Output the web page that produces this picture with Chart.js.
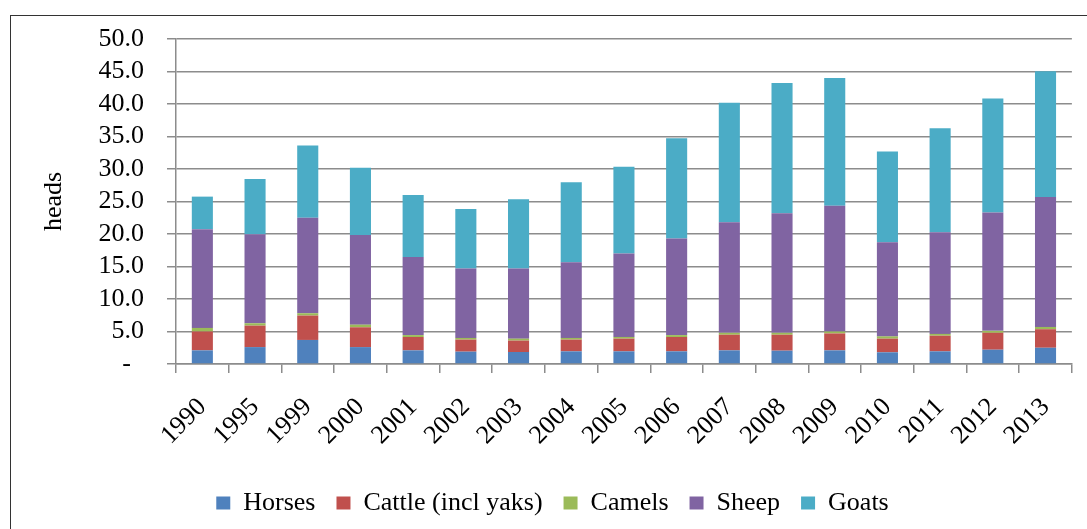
<!DOCTYPE html>
<html>
<head>
<meta charset="utf-8">
<script src="https://cdn.jsdelivr.net/npm/chart.js@4/dist/chart.umd.min.js"></script>
<style>
  html, body { margin: 0; padding: 0; background: #fff; overflow: hidden; }
  #frame { position: absolute; left: 10px; top: 15px; width: 2000px; height: 2000px;
           border-top: 1px solid #333; border-left: 1px solid #333; }
  #wrap { position: absolute; left: 0; top: 0; width: 1087px; height: 529px; }
</style>
</head>
<body>
<div id="frame"></div>
<div id="wrap"><canvas id="livestockChart"></canvas></div>
<script>
const years = ['1990', '1995', '1999', '2000', '2001', '2002', '2003', '2004', '2005',
  '2006', '2007', '2008', '2009', '2010', '2011', '2012', '2013'];

const horses = [2.1, 2.6, 3.7, 2.6, 2.1, 1.9, 1.85, 1.95, 1.95, 1.95, 2.1, 2.05, 2.1, 1.8, 1.95, 2.2, 2.5];
const cattle = [2.9, 3.3, 3.75, 3.05, 2.05, 1.85, 1.75, 1.8, 1.95, 2.2, 2.4, 2.45, 2.6, 2.1, 2.4, 2.6, 2.85];
const camels = [0.55, 0.37, 0.36, 0.4, 0.3, 0.26, 0.3, 0.26, 0.26, 0.3, 0.3, 0.3, 0.3, 0.35, 0.28, 0.3, 0.35];
const sheep = [15.2, 13.7, 14.7, 13.8, 12.0, 10.7, 10.8, 11.65, 12.85, 14.85, 17.0, 18.4, 19.35, 14.5, 15.65, 18.2, 20.0];
const goats = [5.0, 8.5, 11.1, 10.35, 9.55, 9.15, 10.65, 12.3, 13.35, 15.45, 18.4, 20.05, 19.65, 13.95, 16.0, 17.55, 19.35];

const yTicks = [0, 5, 10, 15, 20, 25, 30, 35, 40, 45, 50];

const font = { family: '"Liberation Serif", "Times New Roman", serif', size: 26 };
const gridColor = '#8c8c8c';

const series = [
  { label: 'Horses', data: horses, color: '#4F81BD' },
  { label: 'Cattle (incl yaks)', data: cattle, color: '#C0504D' },
  { label: 'Camels', data: camels, color: '#9BBB59' },
  { label: 'Sheep', data: sheep, color: '#8064A2' },
  { label: 'Goats', data: goats, color: '#4BACC6' },
];

new Chart(document.getElementById('livestockChart'), {
  type: 'bar',
  data: {
    labels: years,
    datasets: series.map((s) => ({
      label: s.label,
      data: s.data,
      backgroundColor: s.color,
      borderWidth: 0,
      barPercentage: 0.4,
      categoryPercentage: 1,
    })),
  },
  options: {
    responsive: true,
    maintainAspectRatio: false,
    animation: false,
    layout: { padding: { left: 32, right: 14, top: 39, bottom: 3 } },
    plugins: {
      tooltip: { enabled: false },
      legend: {
        position: 'bottom',
        labels: { font, color: '#000', boxWidth: 14, boxHeight: 13, padding: 21 },
      },
    },
    scales: {
      x: {
        stacked: true,
        afterFit: (scale) => { scale.height = 105; },
        grid: { drawOnChartArea: false, drawTicks: true, tickLength: 9, color: gridColor, lineWidth: 1.5 },
        border: { color: gridColor, width: 1.5 },
        ticks: { font, color: '#000', minRotation: 45, maxRotation: 45, autoSkip: false, padding: 19 },
      },
      y: {
        stacked: true,
        min: 0,
        max: 50,
        afterBuildTicks: (scale) => { scale.ticks = yTicks.map((v) => ({ value: v })); },
        afterFit: (scale) => { scale.width = 144; },
        grid: { color: gridColor, lineWidth: 1.5, tickLength: 9 },
        border: { color: gridColor, width: 1.5 },
        ticks: {
          font,
          color: '#000',
          autoSkip: false,
          padding: 23,
          callback: (v) => (v === 0 ? '-  ' : v.toFixed(1)),
        },
        title: {
          display: true,
          text: 'heads',
          font,
          color: '#000',
          padding: { top: 7, bottom: 7 },
        },
      },
    },
  },
});
</script>
</body>
</html>
